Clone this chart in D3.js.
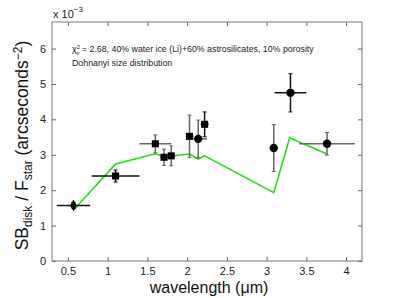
<!DOCTYPE html>
<html>
<head>
<meta charset="utf-8">
<script src="https://cdn.jsdelivr.net/npm/d3@7"></script>
<style>
  body { margin: 0; background: #fff; }
  text { font-family: "Liberation Sans", Arial, sans-serif; }
</style>
</head>
<body>
<div id="chart"></div>
<script>
// --- Data (surface brightness in units of 1e-3 arcsec^-2) ---
const wavelength = [0.57, 1.10, 1.60, 1.71, 1.80, 2.03, 2.14, 2.22, 3.09, 3.30, 3.76];
const xError     = [0.21, 0.30, 0.20, 0.05, 0.05, 0.05, 0.11, 0.05, 0.05, 0.20, 0.35];
const ratio      = [1.57, 2.40, 3.31, 2.93, 2.97, 3.52, 3.45, 3.86, 3.19, 4.75, 3.31];
const yError     = [0.08, 0.17, 0.25, 0.23, 0.28, 0.60, 0.53, 0.35, 0.66, 0.54, 0.32];
const markerKind = ["diamond", "square", "square", "square", "square", "square", "circle", "square", "circle", "circle", "circle"];
const barGroup   = ["dark", "dark", "grey", "grey", "grey", "grey", "grey", "dark", "grey", "dark", "grey"];

const modelWavelength = [0.58, 1.10, 1.60, 1.70, 1.80, 2.03, 2.14, 2.22, 3.09, 3.29, 3.76];
const modelRatio      = [1.46, 2.74, 3.03, 2.95, 2.97, 3.02, 2.88, 2.97, 1.93, 3.48, 3.02];

const xTicks = [0.5, 1, 1.5, 2, 2.5, 3, 3.5, 4];
const yTicks = [0, 1, 2, 3, 4, 5, 6];

// --- Layout ---
const WIDTH = 399, HEIGHT = 298;
const MARGIN = { top: 22, right: 37, bottom: 37, left: 52 };
const INNER_W = WIDTH - MARGIN.left - MARGIN.right;
const INNER_H = HEIGHT - MARGIN.top - MARGIN.bottom;
const TICK = 4;

const svg = d3.select("#chart").append("svg")
  .attr("width", WIDTH).attr("height", HEIGHT);
const g = svg.append("g").attr("transform", `translate(${MARGIN.left},${MARGIN.top})`);

const x = d3.scaleLinear().domain([0.3, 4.2]).range([0, INNER_W]);
const y = d3.scaleLinear().domain([0, 6.75]).range([INNER_H, 0]);

// axes: ticks inside on all four sides
function styleAxis(sel) {
  sel.select(".domain").remove();
  sel.selectAll(".tick line").attr("stroke", "#666");
  sel.selectAll(".tick text").attr("fill", "#222").style("font-size", "11px");
}
g.append("g").attr("transform", `translate(0,${INNER_H})`)
  .call(d3.axisBottom(x).tickValues(xTicks).tickSizeInner(-TICK).tickSizeOuter(0).tickPadding(6).tickFormat(d3.format("")))
  .call(styleAxis);
g.append("g")
  .call(d3.axisTop(x).tickValues(xTicks).tickSizeInner(-TICK).tickSizeOuter(0).tickFormat(""))
  .call(styleAxis);
g.append("g")
  .call(d3.axisLeft(y).tickValues(yTicks).tickSizeInner(-TICK).tickSizeOuter(0).tickPadding(6).tickFormat(d3.format("")))
  .call(styleAxis);
g.append("g").attr("transform", `translate(${INNER_W},0)`)
  .call(d3.axisRight(y).tickValues(yTicks).tickSizeInner(-TICK).tickSizeOuter(0).tickFormat(""))
  .call(styleAxis);

g.append("rect")
  .attr("width", INNER_W).attr("height", INNER_H)
  .attr("fill", "none").attr("stroke", "#777").attr("stroke-width", 1);

// exponent label
const expo = svg.append("text").attr("x", MARGIN.left + 1).attr("y", 18)
  .attr("fill", "#222").style("font-size", "11px");
expo.append("tspan").text("x 10");
expo.append("tspan").attr("dy", -6).style("font-size", "8px").text("\u22123");

// model line
g.append("path")
  .datum(modelWavelength.map((w, i) => [w, modelRatio[i]]))
  .attr("fill", "none").attr("stroke", "#22dd11").attr("stroke-width", 1.6)
  .attr("d", d3.line().x(d => x(d[0])).y(d => y(d[1])));

// data with error bars
const barColor = { dark: "#111", grey: "#666" };
const pts = wavelength.map((w, i) => ({
  w, r: ratio[i], xe: xError[i], ye: yError[i], kind: markerKind[i], grp: barGroup[i]
}));
const pg = g.append("g");
pts.forEach(d => {
  const c = barColor[d.grp];
  pg.append("line").attr("x1", x(d.w - d.xe)).attr("x2", x(d.w + d.xe))
    .attr("y1", y(d.r)).attr("y2", y(d.r)).attr("stroke", c).attr("stroke-width", 1.5);
  pg.append("line").attr("x1", x(d.w)).attr("x2", x(d.w))
    .attr("y1", y(d.r - d.ye)).attr("y2", y(d.r + d.ye)).attr("stroke", c).attr("stroke-width", 1.5);
  [d.r - d.ye, d.r + d.ye].forEach(v => {
    pg.append("line").attr("x1", x(d.w) - 2).attr("x2", x(d.w) + 2)
      .attr("y1", y(v)).attr("y2", y(v)).attr("stroke", c).attr("stroke-width", 1);
  });
});
const symbolType = { diamond: d3.symbolDiamond, square: d3.symbolSquare, circle: d3.symbolCircle };
const symbolSize = { diamond: 40, square: 50, circle: 55 };
pg.selectAll("path.mark").data(pts).join("path")
  .attr("class", "mark")
  .attr("transform", d => `translate(${x(d.w)},${y(d.r)})`)
  .attr("d", d => d3.symbol().type(symbolType[d.kind]).size(symbolSize[d.kind])())
  .attr("fill", "#000");

// annotation
const note = g.append("text").attr("x", 20).attr("y", 30).attr("fill", "#222").style("font-size", "8.8px");
note.append("tspan").text("\u03c7");
note.append("tspan").attr("dy", -3.5).style("font-size", "6px").text("2");
note.append("tspan").attr("dx", -3.5).attr("dy", 6.5).style("font-size", "6px").text("\u03bd");
note.append("tspan").attr("dy", -3).text(" = 2.68, 40% water ice (Li)+60% astrosilicates, 10% porosity");
g.append("text").attr("x", 20).attr("y", 44).attr("fill", "#222").style("font-size", "8.8px")
  .text("Dohnanyi size distribution");

// axis labels
svg.append("text").attr("x", MARGIN.left + INNER_W / 2 + 2).attr("y", 293)
  .attr("text-anchor", "middle").attr("fill", "#111").style("font-size", "16px")
  .text("wavelength (\u03bcm)");

const yl = svg.append("text")
  .attr("transform", `translate(28,${MARGIN.top + INNER_H / 2 + 4}) rotate(-90)`)
  .attr("text-anchor", "middle").attr("fill", "#111").style("font-size", "17.5px");
yl.append("tspan").text("SB");
yl.append("tspan").attr("dy", 4).style("font-size", "12px").text("disk");
yl.append("tspan").attr("dy", -4).text(" / F");
yl.append("tspan").attr("dy", 4).style("font-size", "12px").text("star");
yl.append("tspan").attr("dy", -4).text(" (arcseconds");
yl.append("tspan").attr("dy", -6).style("font-size", "12px").text("\u22122");
yl.append("tspan").attr("dy", 6).text(")");
</script>
</body>
</html>
